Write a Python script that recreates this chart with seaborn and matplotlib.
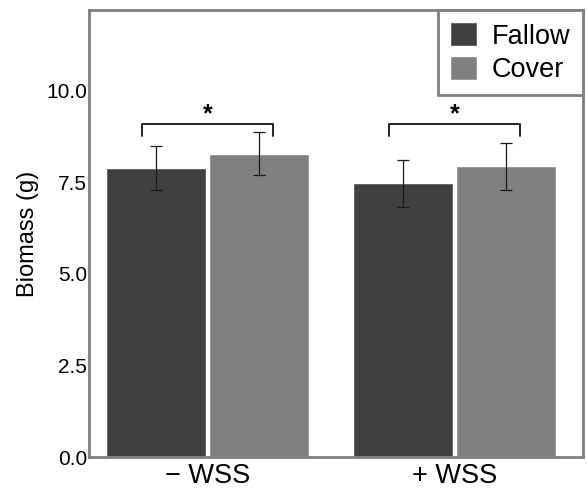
import pandas as pd
import matplotlib
matplotlib.use("Agg")
import matplotlib.pyplot as plt
import seaborn as sns

# Dados
groups = ["\u2212 WSS", "+ WSS"]
treatments = ["Fallow", "Cover"]
fallow_mean = [7.90, 7.47]
cover_mean = [8.28, 7.93]
fallow_err = [0.60, 0.64]
cover_err = [0.58, 0.64]
sig_labels = ["*", "*"]

df = pd.DataFrame({
    "group": groups * 2,
    "treatment": ["Fallow"] * 2 + ["Cover"] * 2,
    "biomass": fallow_mean + cover_mean,
    "err": fallow_err + cover_err,
})

sns.set_theme(style="white")
plt.rcParams["font.family"] = ["Liberation Sans", "DejaVu Sans"]
plt.rcParams["text.color"] = "black"
plt.rcParams["axes.labelcolor"] = "black"
plt.rcParams["xtick.color"] = "black"
plt.rcParams["ytick.color"] = "black"

fig = plt.figure(figsize=(5.87, 4.91), dpi=100)
ax = fig.add_axes([0.1516, 0.0692, 0.8414, 0.9104])

palette = {"Fallow": "#404040", "Cover": "#808080"}
sns.barplot(data=df, x="group", y="biomass", hue="treatment", hue_order=treatments,
            order=groups, palette=palette, errorbar=None, width=0.84, gap=0.035,
            saturation=1, ax=ax)

# Barras de erro nos centros das barras
for cont, t in zip(ax.containers, treatments):
    sub = df[df["treatment"] == t].set_index("group").loc[groups]
    xs = [p.get_x() + p.get_width() / 2 for p in cont.patches]
    ax.errorbar(xs, sub["biomass"], yerr=sub["err"], fmt="none", ecolor="#1a1a1a",
                elinewidth=0.9, capsize=4.5, capthick=0.9, zorder=3)

# Colchetes de significância
for i, s in enumerate(sig_labels):
    x0, x1 = i - 0.265, i + 0.265
    ax.plot([x0, x0, x1, x1], [8.77, 9.1, 9.1, 8.77], color="#111111", lw=1.3,
            solid_joinstyle="round")
    ax.text(i, 9.15, s, ha="center", va="baseline", fontsize=18, fontweight="bold")

ax.set_xlim(-0.48, 1.52)
ax.set_ylim(0, 12.2)
ax.set_yticks([0, 2.5, 5.0, 7.5, 10.0])
ax.set_yticklabels(["0.0", "2.5", "5.0", "7.5", "10.0"])
ax.tick_params(axis="y", length=0, pad=1.5, labelsize=15)
ax.tick_params(axis="x", length=0, pad=4, labelsize=19.5)
ax.set_xlabel("")
ax.set_ylabel("Biomass (g)", fontsize=17, labelpad=5)

for sp in ax.spines.values():
    sp.set_color("#808080")
    sp.set_linewidth(2)

leg = ax.legend(loc="upper right", borderaxespad=0, fontsize=19.5, frameon=True,
                fancybox=False, handlelength=1.0, handleheight=1.0, handletextpad=0.55,
                borderpad=0.45, labelspacing=0.22)
leg.get_frame().set_edgecolor("#808080")
leg.get_frame().set_linewidth(2)
leg.get_frame().set_alpha(1)

fig.savefig("out.png", dpi=100)
